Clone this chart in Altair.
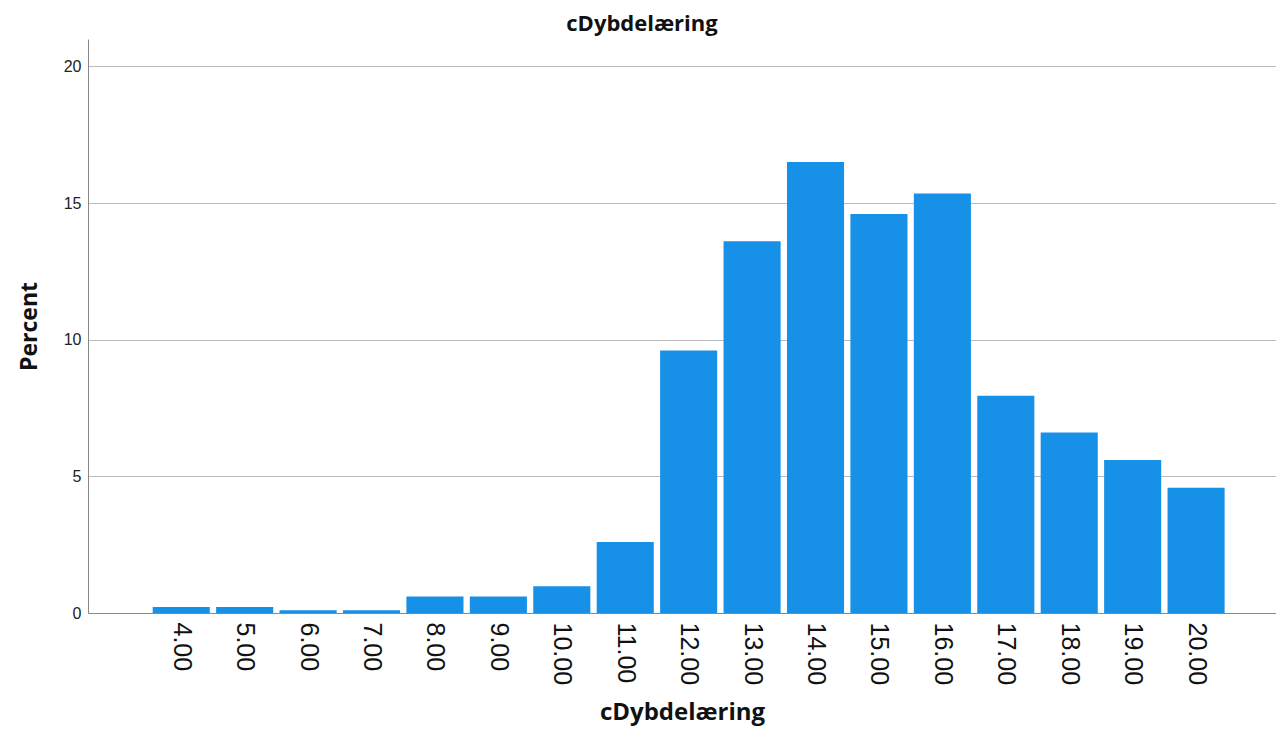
import altair as alt
import pandas as pd

values = [4, 5, 6, 7, 8, 9, 10, 11, 12, 13, 14, 15, 16, 17, 18, 19, 20]
labels = ["4.00", "5.00", "6.00", "7.00", "8.00", "9.00", "10.00", "11.00", "12.00",
          "13.00", "14.00", "15.00", "16.00", "17.00", "18.00", "19.00", "20.00"]
percent = [0.22, 0.22, 0.1, 0.1, 0.6, 0.6, 0.98, 2.6, 9.6, 13.6, 16.5, 14.6, 15.35,
           7.95, 6.6, 5.6, 4.58]

df = pd.DataFrame({"value": values, "label": labels, "percent": percent})

label_expr = "format(datum.value, '.2f')"

bars = alt.Chart(df).transform_calculate(
    x0="datum.value - 0.45", x1="datum.value + 0.45", base="0"
).mark_bar(color="#1790E8").encode(
    x=alt.X("x0:Q",
            scale=alt.Scale(domain=[2.53, 21.26], nice=False, zero=False),
            axis=alt.Axis(values=values, labelExpr=label_expr, labelAngle=90,
                          labelAlign="left", labelBaseline="middle",
                          labelFontSize=25, labelColor="#111", labelPadding=9,
                          labelFont="Liberation Sans",
                          ticks=False, grid=False, domainColor="#888",
                          title="cDybdelæring", titleFontSize=24, titleFontWeight="bold",
                          titleColor="#111", titlePadding=16)),
    x2="x1:Q",
    y=alt.Y("percent:Q",
            scale=alt.Scale(domain=[0, 21], nice=False),
            axis=alt.Axis(values=[0, 5, 10, 15, 20], ticks=False, grid=True,
                          gridColor="#bbbbbb", domainColor="#888", labelFontSize=16,
                          labelFont="Liberation Sans",
                          labelColor="#222", labelPadding=7,
                          title="Percent", titleFontSize=23, titleFontWeight="bold",
                          titleColor="#111", titlePadding=22)),
    y2="base:Q",
    tooltip=["label", "percent"],
)

chart = bars.properties(
    width=1188, height=574,
    title=alt.TitleParams("cDybdelæring", fontSize=22, fontWeight="bold", color="#111",
                          anchor="middle", dx=-40, offset=3),
    padding={"left": 10, "top": 5, "right": 0, "bottom": 5},
).configure(font="Open Sans").configure_view(stroke=None)

chart.save("out.html", embed_options={"renderer": "svg", "actions": False})
